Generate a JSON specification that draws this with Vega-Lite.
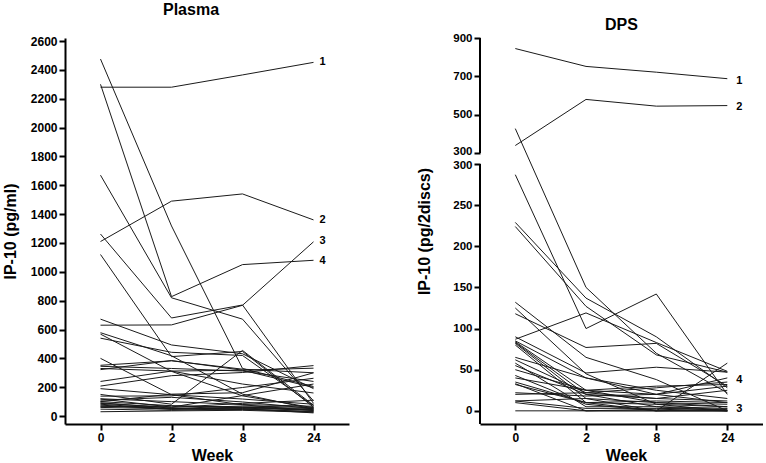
{
  "$schema": "https://vega.github.io/schema/vega-lite/v6.json",
  "background": "white",
  "padding": {"left": 2, "top": 2, "right": 0, "bottom": 0},
  "spacing": 67,
  "datasets": {
    "plasma": [
      {"s":1,"w":0,"v":2280},{"s":1,"w":2,"v":2280},{"s":1,"w":8,"v":2365},{"s":1,"w":24,"v":2452},
      {"s":2,"w":0,"v":1210},{"s":2,"w":2,"v":1490},{"s":2,"w":8,"v":1540},{"s":2,"w":24,"v":1360},
      {"s":3,"w":0,"v":630},{"s":3,"w":2,"v":632},{"s":3,"w":8,"v":768},{"s":3,"w":24,"v":1208},
      {"s":4,"w":0,"v":2300},{"s":4,"w":2,"v":828},{"s":4,"w":8,"v":1050},{"s":4,"w":24,"v":1080},
      {"s":5,"w":0,"v":2475},{"s":5,"w":2,"v":1318},{"s":5,"w":8,"v":330},{"s":5,"w":24,"v":205},
      {"s":6,"w":0,"v":1670},{"s":6,"w":2,"v":820},{"s":6,"w":8,"v":672},{"s":6,"w":24,"v":105},
      {"s":7,"w":0,"v":1262},{"s":7,"w":2,"v":680},{"s":7,"w":8,"v":770},{"s":7,"w":24,"v":88},
      {"s":8,"w":0,"v":1120},{"s":8,"w":2,"v":412},{"s":8,"w":8,"v":448},{"s":8,"w":24,"v":62},
      {"s":9,"w":0,"v":672},{"s":9,"w":2,"v":493},{"s":9,"w":8,"v":432},{"s":9,"w":24,"v":190},
      {"s":10,"w":0,"v":578},{"s":10,"w":2,"v":418},{"s":10,"w":8,"v":152},{"s":10,"w":24,"v":48},
      {"s":11,"w":0,"v":568},{"s":11,"w":2,"v":310},{"s":11,"w":8,"v":140},{"s":11,"w":24,"v":58},
      {"s":12,"w":0,"v":540},{"s":12,"w":2,"v":442},{"s":12,"w":8,"v":420},{"s":12,"w":24,"v":72},
      {"s":13,"w":0,"v":400},{"s":13,"w":2,"v":148},{"s":13,"w":8,"v":78},{"s":13,"w":24,"v":38},
      {"s":14,"w":0,"v":352},{"s":14,"w":2,"v":383},{"s":14,"w":8,"v":325},{"s":14,"w":24,"v":300},
      {"s":15,"w":0,"v":330},{"s":15,"w":2,"v":312},{"s":15,"w":8,"v":318},{"s":15,"w":24,"v":332},
      {"s":16,"w":0,"v":322},{"s":16,"w":2,"v":385},{"s":16,"w":8,"v":318},{"s":16,"w":24,"v":198},
      {"s":17,"w":0,"v":240},{"s":17,"w":2,"v":312},{"s":17,"w":8,"v":222},{"s":17,"w":24,"v":160},
      {"s":18,"w":0,"v":208},{"s":18,"w":2,"v":280},{"s":18,"w":8,"v":302},{"s":18,"w":24,"v":350},
      {"s":19,"w":0,"v":190},{"s":19,"w":2,"v":148},{"s":19,"w":8,"v":118},{"s":19,"w":24,"v":82},
      {"s":20,"w":0,"v":150},{"s":20,"w":2,"v":82},{"s":20,"w":8,"v":455},{"s":20,"w":24,"v":75},
      {"s":21,"w":0,"v":138},{"s":21,"w":2,"v":140},{"s":21,"w":8,"v":198},{"s":21,"w":24,"v":262},
      {"s":22,"w":0,"v":118},{"s":22,"w":2,"v":62},{"s":22,"w":8,"v":142},{"s":22,"w":24,"v":222},
      {"s":23,"w":0,"v":110},{"s":23,"w":2,"v":130},{"s":23,"w":8,"v":98},{"s":23,"w":24,"v":52},
      {"s":24,"w":0,"v":100},{"s":24,"w":2,"v":72},{"s":24,"w":8,"v":62},{"s":24,"w":24,"v":42},
      {"s":25,"w":0,"v":92},{"s":25,"w":2,"v":55},{"s":25,"w":8,"v":48},{"s":25,"w":24,"v":32},
      {"s":26,"w":0,"v":82},{"s":26,"w":2,"v":50},{"s":26,"w":8,"v":55},{"s":26,"w":24,"v":40},
      {"s":27,"w":0,"v":76},{"s":27,"w":2,"v":46},{"s":27,"w":8,"v":62},{"s":27,"w":24,"v":52},
      {"s":28,"w":0,"v":70},{"s":28,"w":2,"v":52},{"s":28,"w":8,"v":70},{"s":28,"w":24,"v":60},
      {"s":29,"w":0,"v":60},{"s":29,"w":2,"v":50},{"s":29,"w":8,"v":45},{"s":29,"w":24,"v":30},
      {"s":30,"w":0,"v":48},{"s":30,"w":2,"v":40},{"s":30,"w":8,"v":52},{"s":30,"w":24,"v":22},
      {"s":31,"w":0,"v":30},{"s":31,"w":2,"v":36},{"s":31,"w":8,"v":40},{"s":31,"w":24,"v":26},
      {"s":32,"w":0,"v":100},{"s":32,"w":2,"v":152},{"s":32,"w":8,"v":162},{"s":32,"w":24,"v":300},
      {"s":33,"w":0,"v":345},{"s":33,"w":2,"v":330},{"s":33,"w":8,"v":312},{"s":33,"w":24,"v":240},
      {"s":34,"w":0,"v":88},{"s":34,"w":2,"v":60},{"s":34,"w":8,"v":88},{"s":34,"w":24,"v":110},
      {"s":35,"w":0,"v":120},{"s":35,"w":2,"v":100},{"s":35,"w":8,"v":80},{"s":35,"w":24,"v":68},
      {"s":36,"w":0,"v":65},{"s":36,"w":2,"v":70},{"s":36,"w":8,"v":58},{"s":36,"w":24,"v":45}
    ],
    "dps": [
      {"s":1,"w":0,"v":845},{"s":1,"w":2,"v":752},{"s":1,"w":8,"v":722},{"s":1,"w":24,"v":688},
      {"s":2,"w":0,"v":340},{"s":2,"w":2,"v":580},{"s":2,"w":8,"v":545},{"s":2,"w":24,"v":548},
      {"s":3,"w":0,"v":428},{"s":3,"w":2,"v":150},{"s":3,"w":8,"v":70},{"s":3,"w":24,"v":22},
      {"s":4,"w":0,"v":287},{"s":4,"w":2,"v":100},{"s":4,"w":8,"v":142},{"s":4,"w":24,"v":20},
      {"s":5,"w":0,"v":229},{"s":5,"w":2,"v":137},{"s":5,"w":8,"v":90},{"s":5,"w":24,"v":28},
      {"s":6,"w":0,"v":224},{"s":6,"w":2,"v":127},{"s":6,"w":8,"v":68},{"s":6,"w":24,"v":47},
      {"s":7,"w":0,"v":132},{"s":7,"w":2,"v":65},{"s":7,"w":8,"v":38},{"s":7,"w":24,"v":0},
      {"s":8,"w":0,"v":125},{"s":8,"w":2,"v":45},{"s":8,"w":8,"v":8},{"s":8,"w":24,"v":0},
      {"s":9,"w":0,"v":87},{"s":9,"w":2,"v":119},{"s":9,"w":8,"v":83},{"s":9,"w":24,"v":48},
      {"s":10,"w":0,"v":118},{"s":10,"w":2,"v":77},{"s":10,"w":8,"v":82},{"s":10,"w":24,"v":30},
      {"s":11,"w":0,"v":90},{"s":11,"w":2,"v":46},{"s":11,"w":8,"v":53},{"s":11,"w":24,"v":47},
      {"s":12,"w":0,"v":85},{"s":12,"w":2,"v":40},{"s":12,"w":8,"v":25},{"s":12,"w":24,"v":15},
      {"s":13,"w":0,"v":84},{"s":13,"w":2,"v":25},{"s":13,"w":8,"v":10},{"s":13,"w":24,"v":5},
      {"s":14,"w":0,"v":83},{"s":14,"w":2,"v":20},{"s":14,"w":8,"v":5},{"s":14,"w":24,"v":0},
      {"s":15,"w":0,"v":82},{"s":15,"w":2,"v":15},{"s":15,"w":8,"v":0},{"s":15,"w":24,"v":58},
      {"s":16,"w":0,"v":80},{"s":16,"w":2,"v":10},{"s":16,"w":8,"v":12},{"s":16,"w":24,"v":10},
      {"s":17,"w":0,"v":62},{"s":17,"w":2,"v":22},{"s":17,"w":8,"v":28},{"s":17,"w":24,"v":35},
      {"s":18,"w":0,"v":58},{"s":18,"w":2,"v":5},{"s":18,"w":8,"v":5},{"s":18,"w":24,"v":3},
      {"s":19,"w":0,"v":55},{"s":19,"w":2,"v":20},{"s":19,"w":8,"v":15},{"s":19,"w":24,"v":25},
      {"s":20,"w":0,"v":50},{"s":20,"w":2,"v":25},{"s":20,"w":8,"v":20},{"s":20,"w":24,"v":10},
      {"s":21,"w":0,"v":43},{"s":21,"w":2,"v":8},{"s":21,"w":8,"v":0},{"s":21,"w":24,"v":0},
      {"s":22,"w":0,"v":40},{"s":22,"w":2,"v":25},{"s":22,"w":8,"v":30},{"s":22,"w":24,"v":32},
      {"s":23,"w":0,"v":33},{"s":23,"w":2,"v":0},{"s":23,"w":8,"v":2},{"s":23,"w":24,"v":0},
      {"s":24,"w":0,"v":32},{"s":24,"w":2,"v":10},{"s":24,"w":8,"v":8},{"s":24,"w":24,"v":5},
      {"s":25,"w":0,"v":22},{"s":25,"w":2,"v":18},{"s":25,"w":8,"v":20},{"s":25,"w":24,"v":30},
      {"s":26,"w":0,"v":20},{"s":26,"w":2,"v":22},{"s":26,"w":8,"v":15},{"s":26,"w":24,"v":12},
      {"s":27,"w":0,"v":12},{"s":27,"w":2,"v":3},{"s":27,"w":8,"v":3},{"s":27,"w":24,"v":2},
      {"s":28,"w":0,"v":10},{"s":28,"w":2,"v":0},{"s":28,"w":8,"v":0},{"s":28,"w":24,"v":0},
      {"s":29,"w":0,"v":0},{"s":29,"w":2,"v":0},{"s":29,"w":8,"v":0},{"s":29,"w":24,"v":0},
      {"s":30,"w":0,"v":12},{"s":30,"w":2,"v":15},{"s":30,"w":8,"v":10},{"s":30,"w":24,"v":8},
      {"s":31,"w":0,"v":65},{"s":31,"w":2,"v":40},{"s":31,"w":8,"v":20},{"s":31,"w":24,"v":40},
      {"s":32,"w":0,"v":35},{"s":32,"w":2,"v":10},{"s":32,"w":8,"v":0},{"s":32,"w":24,"v":2}
    ],
    "plasmaLabels": [
      {"w":24,"v":2455,"t":"1"},{"w":24,"v":1357,"t":"2"},{"w":24,"v":1211,"t":"3"},{"w":24,"v":1078,"t":"4"}
    ],
    "dpsLabels": [
      {"w":24,"v":678,"t":"1"},{"w":24,"v":540,"t":"2"},{"w":24,"v":2,"t":"3"},{"w":24,"v":37,"t":"4"}
    ],
    "dpsBreaks": [
      {"w":-1,"lo":-16,"hi":300},{"w":-1,"lo":301,"hi":900}
    ]
  },
  "hconcat": [
    {
      "width": 284,
      "height": 386,
      "title": {"text": "Plasma", "offset": 17, "dx": -16},
      "encoding": {
        "x": {"field": "w", "type": "quantitative",
              "scale": {"domain": [-1, 0, 2, 8, 24, 32], "range": [0, 35.5, 106.5, 177.5, 248.5, 284], "nice": false, "zero": false},
              "axis": {"values": [0, 2, 8, 24], "format": "d", "title": "Week", "titlePadding": 4, "titleX": 147, "labelOverlap": false}},
        "y": {"field": "v", "type": "quantitative",
              "scale": {"domain": [-55, 2621], "nice": false, "zero": false},
              "axis": {"values": [0,200,400,600,800,1000,1200,1400,1600,1800,2000,2200,2400,2600], "format": "d", "title": "IP-10 (pg/ml)", "titlePadding": 12, "labelOverlap": false}}
      },
      "layer": [
        {
          "data": {"name": "plasma"},
          "mark": {"type": "line", "color": "#1a1a1a", "strokeWidth": 1},
          "encoding": {
            "detail": {"field": "s", "type": "nominal"}
          }
        },
        {
          "data": {"name": "plasmaLabels"},
          "mark": {"type": "text", "align": "left", "baseline": "middle", "dx": 6, "font": "Liberation Sans", "fontWeight": "bold", "fontSize": 11, "color": "black"},
          "encoding": {
            "text": {"field": "t"}
          }
        }
      ]
    },
    {
      "width": 283,
      "height": 386,
      "title": {"text": "DPS", "offset": -1},
      "encoding": {
        "x": {"field": "w", "type": "quantitative",
              "scale": {"domain": [-1, 0, 2, 8, 24, 32], "range": [0, 35.3, 106, 176.3, 247.3, 283], "nice": false, "zero": false},
              "axis": {"values": [0, 2, 8, 24], "format": "d", "title": "Week", "titlePadding": 4, "titleX": 146, "labelOverlap": false}},
        "y": {"field": "v", "type": "quantitative",
              "scale": {"domain": [-16, 300, 301, 900], "range": [386, 126, 115, 0], "nice": false, "zero": false},
              "axis": {"values": [0,50,100,150,200,250,300,301,500,700,900], "format": "d", "labelExpr": "datum.value == 301 ? '300' : datum.label",
                       "labelOffset": {"condition": [{"test": "datum.value == 301", "value": -1.5}, {"test": "datum.value == 300", "value": 1.5}], "value": 0},
                       "labelFontSize": 11.5,
                       "title": "IP-10 (pg/2discs)", "titlePadding": 20, "labelOverlap": false, "domain": false}}
      },
      "layer": [
        {
          "data": {"name": "dps"},
          "mark": {"type": "line", "color": "#1a1a1a", "strokeWidth": 1},
          "encoding": {
            "detail": {"field": "s", "type": "nominal"}
          }
        },
        {
          "data": {"name": "dpsLabels"},
          "mark": {"type": "text", "align": "left", "baseline": "middle", "dx": 9, "font": "Liberation Sans", "fontWeight": "bold", "fontSize": 11, "color": "black"},
          "encoding": {
            "text": {"field": "t"}
          }
        },
        {
          "data": {"name": "dpsBreaks"},
          "mark": {"type": "rule", "color": "black", "strokeWidth": 2},
          "encoding": {
            "y": {"field": "lo", "type": "quantitative"},
            "y2": {"field": "hi"}
          }
        }
      ]
    }
  ],
  "config": {
    "font": "Liberation Sans",
    "view": {"stroke": null},
    "title": {"font": "Liberation Sans", "fontSize": 16, "fontWeight": "bold", "color": "black", "anchor": "middle", "frame": "group"},
    "axis": {
      "grid": false,
      "labelFont": "Liberation Sans", "labelFontWeight": "bold", "labelFontSize": 12, "labelColor": "black", "labelPadding": 2,
      "titleFont": "Liberation Sans", "titleFontWeight": "bold", "titleFontSize": 16, "titleColor": "black",
      "domainColor": "black", "domainWidth": 2, "tickColor": "black", "tickWidth": 2, "tickSize": 6
    }
  }
}
